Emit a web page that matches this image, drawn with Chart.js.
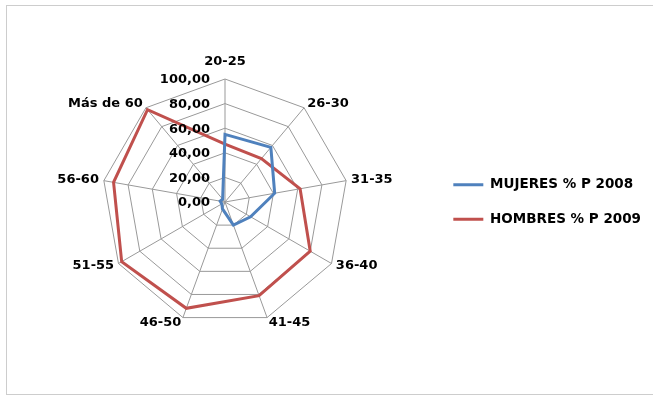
<!DOCTYPE html>
<html lang="es">
<head>
<meta charset="utf-8">
<title>Distribución por edades</title>
<script src="https://cdn.jsdelivr.net/npm/chart.js@4/dist/chart.umd.min.js"></script>
<style>
  html, body { margin: 0; padding: 0; background: #fff; overflow: hidden; }
  #wrap { position: relative; width: 653px; height: 398px; }
  #frame {
    position: absolute; left: 6px; top: 5px; width: 720px; height: 390px;
    border: 1px solid #cdcdcd; box-sizing: border-box; pointer-events: none;
  }
  canvas { position: absolute; left: 0; top: 0; }
</style>
</head>
<body>
<div id="wrap">
  <canvas id="radar" width="653" height="398"></canvas>
  <div id="frame"></div>
</div>
<script>
// Age groups around the radar
const categories = ['20-25', '26-30', '31-35', '36-40', '41-45', '46-50', '51-55', '56-60', 'Más de 60'];

// Percentages per age group
const mujeres2008 = [55, 58, 41, 24, 20, 6, 3, 4, 3];
const hombres2009 = [47, 46, 62, 80, 81, 92, 97, 92, 98];

// Series names
const seriesNames = ['MUJERES % P 2008', 'HOMBRES % P 2009'];

// Value axis
const axisMin = 0;
const axisMax = 100;
const axisStep = 20;

const LABEL_FONT = 'bold 13px "DejaVu Sans"';
const formatTick = v => Number(v).toFixed(2).replace('.', ',');

// Value labels to the left of the vertical axis, category labels outside each spoke
const radarText = {
  id: 'radarText',
  afterDraw(chart) {
    const scale = chart.scales.r;
    const ctx = chart.ctx;
    ctx.save();
    ctx.font = LABEL_FONT;
    ctx.fillStyle = '#000';

    // value ticks
    ctx.textAlign = 'right';
    ctx.textBaseline = 'middle';
    scale.ticks.forEach(t => {
      const d = scale.getDistanceFromCenterForValue(t.value);
      ctx.fillText(formatTick(t.value), scale.xCenter - 15, scale.yCenter - d + 1);
    });

    // category labels
    const n = chart.data.labels.length;
    chart.data.labels.forEach((lbl, i) => {
      const p = scale.getPointPosition(i, scale.drawingArea + 5);
      const deg = Math.round((360 * i / n)) % 360;
      let y = p.y;
      if (deg === 0) {
        ctx.textAlign = 'center';
        y = p.y - 12;
      } else if (deg === 180) {
        ctx.textAlign = 'center';
        y = p.y + 8;
      } else if (deg < 180) {
        ctx.textAlign = 'left';
      } else {
        ctx.textAlign = 'right';
      }
      ctx.textBaseline = 'middle';
      ctx.fillText(lbl, p.x, y);
    });
    ctx.restore();
  }
};

new Chart(document.getElementById('radar'), {
  type: 'radar',
  data: {
    labels: categories,
    datasets: [
      {
        label: seriesNames[0],
        data: mujeres2008,
        borderColor: '#4f81bd',
        backgroundColor: '#4f81bd',
        borderWidth: 3,
        fill: false,
        pointRadius: 0,
        pointHoverRadius: 0,
        tension: 0
      },
      {
        label: seriesNames[1],
        data: hombres2009,
        borderColor: '#c0504d',
        backgroundColor: '#c0504d',
        borderWidth: 3,
        fill: false,
        pointRadius: 0,
        pointHoverRadius: 0,
        tension: 0
      }
    ]
  },
  options: {
    responsive: false,
    animation: false,
    layout: { padding: { top: 79, bottom: 73, left: 19, right: 2 } },
    scales: {
      r: {
        min: axisMin,
        max: axisMax,
        startAngle: 0,
        ticks: { stepSize: axisStep, display: false, callback: formatTick },
        grid: { color: '#999999', lineWidth: 1, circular: false },
        angleLines: { color: '#999999', lineWidth: 1 },
        pointLabels: { display: false }
      }
    },
    plugins: {
      tooltip: { enabled: false },
      legend: {
        position: 'right',
        align: 'center',
        labels: {
          boxWidth: 30,
          boxHeight: 3,
          padding: 21,
          color: '#000',
          font: { family: 'DejaVu Sans', weight: 'bold', size: 13.5 },
          generateLabels(chart) {
            const items = Chart.defaults.plugins.legend.labels.generateLabels(chart);
            items.forEach(it => { it.fillStyle = it.strokeStyle; it.lineWidth = 0; });
            return items;
          }
        }
      }
    }
  },
  plugins: [radarText]
});
</script>
</body>
</html>
